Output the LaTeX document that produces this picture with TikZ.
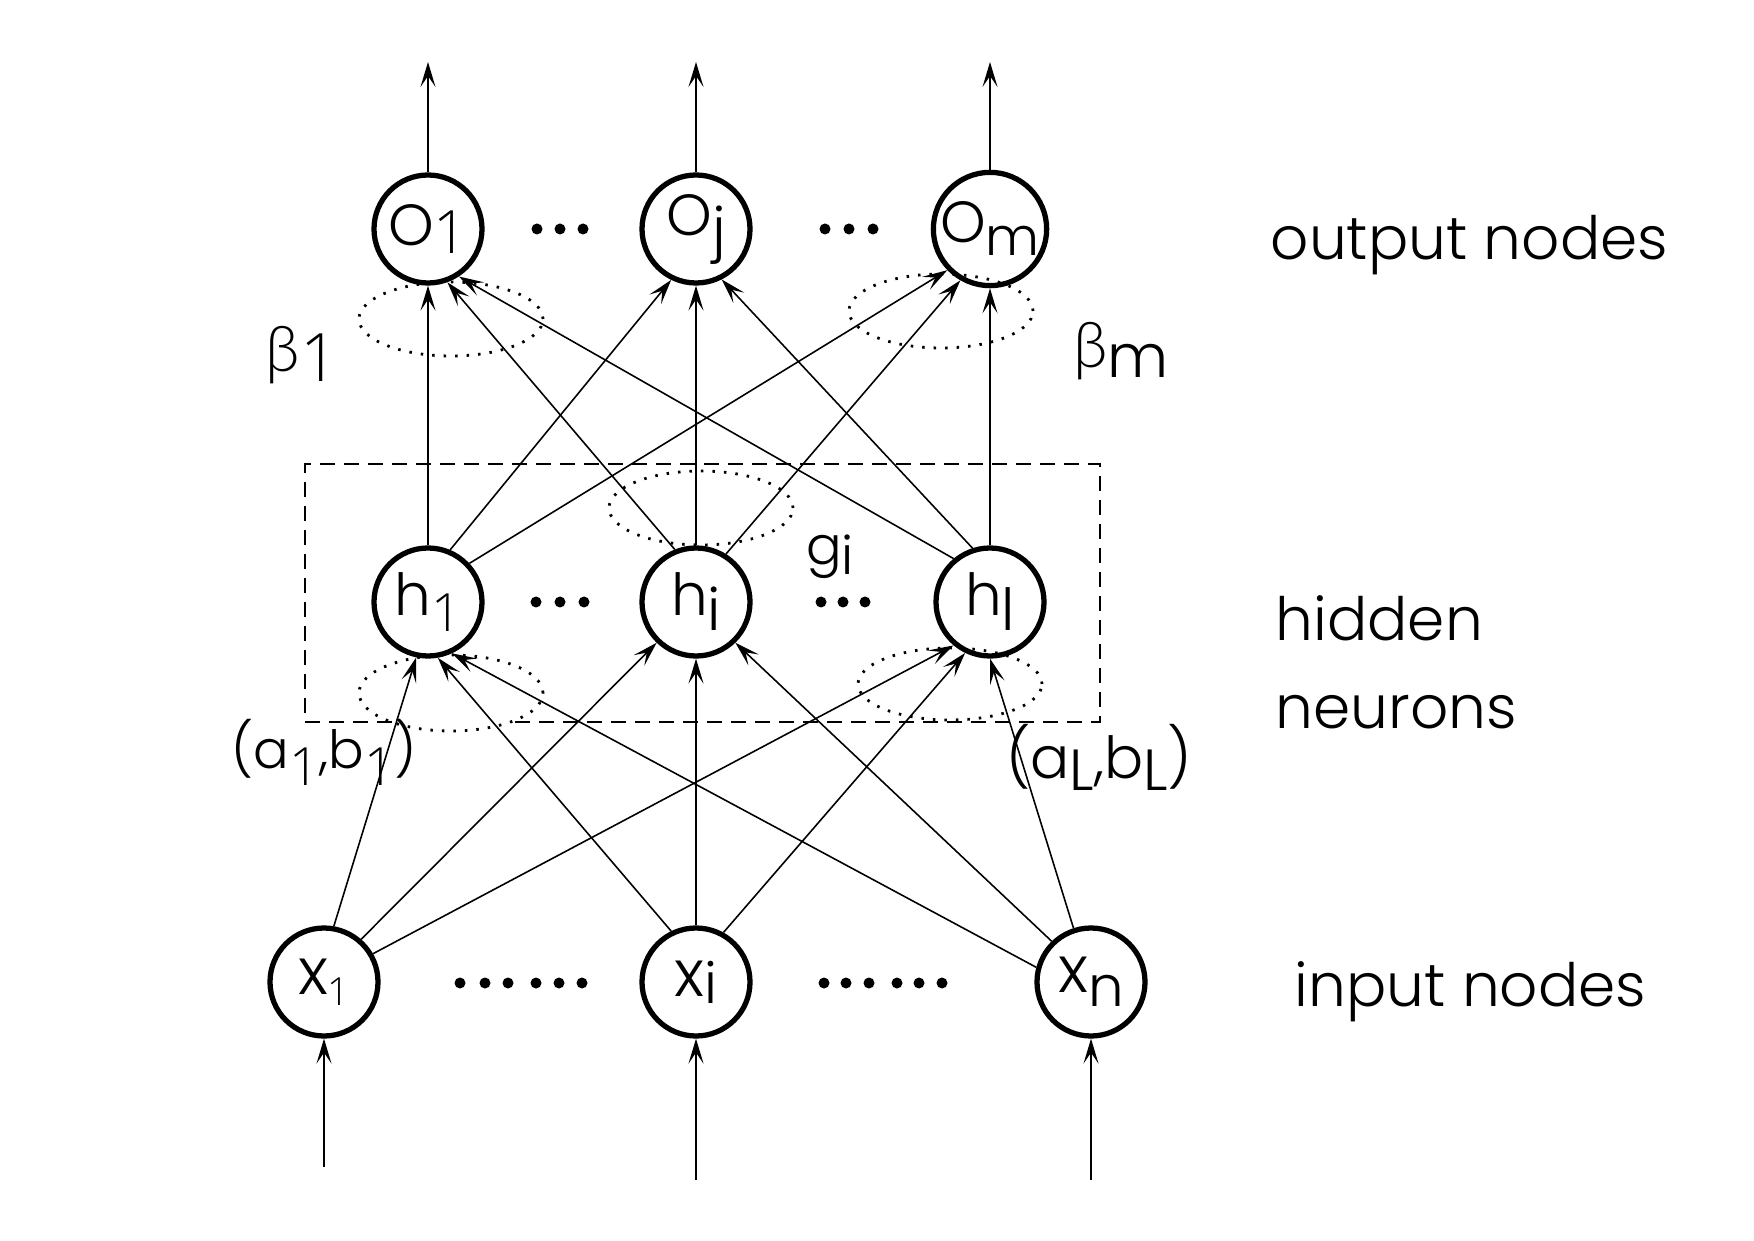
\documentclass[tikz,border=0pt]{standalone}
\usepackage{fontspec}
\setmainfont{Poppins}[UprightFont=* Light]
\newfontfamily\grk{Lato}[UprightFont=* Light]
\newfontfamily\dig{Open Sans}[UprightFont=* Light]
\usetikzlibrary{arrows.meta}
\newcommand\lowr[2]{\raisebox{-#1}{#2}}
\newcommand\fs[1]{\fontsize{#1}{#1}\selectfont}
\begin{document}
\begin{tikzpicture}[x=0.1mm,y=-0.1mm,
  neuron/.style={circle,draw,line width=1.5pt,minimum size=10.8mm,inner sep=0pt},
  conn/.style={-{Stealth[length=2.5mm,width=1.5mm,inset=1.1mm]},line width=0.45pt},
  ring/.style={line width=0.8pt,dash pattern=on 0.25mm off 0.9mm},
  boxline/.style={line width=0.6pt,dash pattern=on 1.5mm off 0.9mm},
  side/.style={anchor=base west,font=\fs{17pt},inner sep=0pt},
  lbl/.style={inner sep=0pt}]
\useasboundingbox (0,0) rectangle (1754,1241);

% dotted ellipses
\draw[ring] (451,319) ellipse [x radius=9.2mm, y radius=3.7mm];
\draw[ring] (941,311) ellipse [x radius=9.2mm, y radius=3.7mm];
\draw[ring] (701,508) ellipse [x radius=9.2mm, y radius=3.7mm];
\draw[ring] (451,693) ellipse [x radius=9.2mm, y radius=3.8mm];
\draw[ring] (950,684) ellipse [x radius=9.2mm, y radius=3.6mm];

% dashed box
\draw[boxline] (392,722) -- (305,722) -- (305,464) -- (1100,464) -- (1100,722) -- (512,722);

% neurons
\node[neuron,font=\fs{16.5pt}] (o1) at (428,229) {O\lowr{0.8mm}{\dig\fs{17pt}1}};
\node[neuron,font=\fs{16.5pt}] (oj) at (696,229) {O\lowr{1.4mm}{j}};
\node[neuron,font=\fs{16.5pt}] (om) at (990,229) {O\lowr{1.3mm}{\fs{15pt}m}};
\node[neuron,font=\fs{16.5pt}] (h1) at (428,602) {h\lowr{1.6mm}{\dig\fs{15pt}1}};
\node[neuron,font=\fs{16.5pt}] (hi) at (696,602) {h\lowr{1.5mm}{i}};
\node[neuron,font=\fs{16.5pt}] (hl) at (990,602) {h\lowr{1.5mm}{l}};
\node[neuron] (x1) at (324,982) {\fs{18.5pt}x\lowr{1.1mm}{\dig\fs{11pt}1}};
\node[neuron] (xi) at (696,982) {\fs{18.5pt}x\lowr{0.7mm}{\fs{16pt}i}};
\node[neuron] (xn) at (1091,982) {\fs{18.5pt}x\lowr{1.4mm}{\fs{16pt}n}};

% dots
\foreach \x in {537,560,583,825,849,873} \fill (\x,229) circle[radius=0.55mm];
\foreach \x in {536,560,584,821,843,865} \fill (\x,602) circle[radius=0.55mm];
\foreach \x in {460,485,508,536,559,582,824,846,869,897,919,942} \fill (\x,983) circle[radius=0.55mm];

% free ends
\coordinate (to1) at (428,62);
\coordinate (toj) at (696,62);
\coordinate (tom) at (990,62);
\coordinate (bx1) at (324,1167);
\coordinate (bxi) at (696,1180);
\coordinate (bxn) at (1091,1180);

% output arrows
\draw[conn] (o1) -- (to1);
\draw[conn] (oj) -- (toj);
\draw[conn] (om) -- (tom);
% input arrows
\draw[conn] (bx1) -- (x1);
\draw[conn] (bxi) -- (xi);
\draw[conn] (bxn) -- (xn);

% hidden -> output
\draw[conn] (h1.90) -- (o1.-90);
\draw[conn] (h1.67) -- (oj.-116);
\draw[conn] (h1.43) -- (om.-136);
\draw[conn] (hi.112) -- (o1.-70);
\draw[conn] (hi.90) -- (oj.-90);
\draw[conn] (hi.58) -- (om.-120);
\draw[conn] (hl.130) -- (o1.-57);
\draw[conn] (hl.108) -- (oj.-63);
\draw[conn] (hl.90) -- (om.-90);

% input -> hidden
\draw[conn] (x1.80) -- (h1.-102);
\draw[conn] (x1.49) -- (hi.-134);
\draw[conn] (x1.30) -- (hl.-130);
\draw[conn] (xi.116) -- (h1.-80);
\draw[conn] (xi.90) -- (hi.-90);
\draw[conn] (xi.61) -- (hl.-116);
\draw[conn] (xn.165) -- (h1.-65);
\draw[conn] (xn.134) -- (hi.-46);
\draw[conn] (xn.108) -- (hl.-90);

% labels
\node[lbl] (beta1) at (302,355) {{\grk\fs{18pt}\raisebox{1mm}{β}}{\dig\fs{19pt}1}};
\node[lbl] (betam) at (1121,351) {{\grk\fs{18pt}\raisebox{1mm}{β}}{\fs{17pt}m}};
\node[lbl,font=\fs{15pt}] (gi) at (830,557) {g\lowr{1mm}{i}};
\node[lbl,font=\fs{15pt}] (ab1) at (324,752) {(a\lowr{1.7mm}{\dig 1},b\lowr{1.7mm}{\dig 1})};
\node[lbl,font=\fs{16.5pt}] (abL) at (1099,757) {(a\lowr{1.2mm}{L},b\lowr{1.2mm}{L})};

% side texts
\node[side] (tout) at (1270,260) {output nodes};
\node[side] (thid) at (1275,640) {hidden};
\node[side] (tneu) at (1275,728) {neurons};
\node[side] (tin) at (1294,1006) {input nodes};
\end{tikzpicture}
\end{document}
